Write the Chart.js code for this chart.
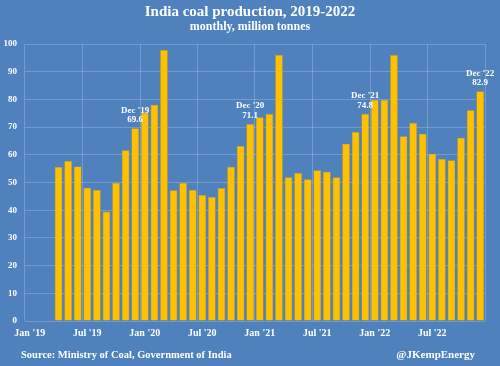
<!DOCTYPE html>
<html>
<head>
<meta charset="utf-8">
<script src="https://cdn.jsdelivr.net/npm/chart.js@4.4.0/dist/chart.umd.min.js"></script>
<style>
	html, body { margin: 0; padding: 0; background: #4F81BD; }
	#coalChart { display: block; }
</style>
</head>
<body>
<canvas id="coalChart" width="500" height="366"></canvas>
<script>
'use strict'

// CHART_COAL_MONTHLY

const months = [
	"Jan '19", "Feb '19", "Mar '19", "Apr '19", "May '19", "Jun '19", "Jul '19", "Aug '19", "Sep '19", "Oct '19", "Nov '19", "Dec '19",
	"Jan '20", "Feb '20", "Mar '20", "Apr '20", "May '20", "Jun '20", "Jul '20", "Aug '20", "Sep '20", "Oct '20", "Nov '20", "Dec '20",
	"Jan '21", "Feb '21", "Mar '21", "Apr '21", "May '21", "Jun '21", "Jul '21", "Aug '21", "Sep '21", "Oct '21", "Nov '21", "Dec '21",
	"Jan '22", "Feb '22", "Mar '22", "Apr '22", "May '22", "Jun '22", "Jul '22", "Aug '22", "Sep '22", "Oct '22", "Nov '22", "Dec '22",
];

// million tonnes, no data before Apr 2019
const production = [
	null, null, null, 55.6, 57.8, 55.8, 48.1, 47.3, 39.5, 49.9, 61.6, 69.6,
	75.2, 78.1, 97.8, 47.2, 49.9, 47.3, 45.5, 44.8, 48.0, 55.7, 63.2, 71.1,
	73.6, 74.7, 96.1, 51.9, 53.4, 51.2, 54.4, 53.9, 51.9, 64.0, 68.2, 74.8,
	79.8, 79.8, 96.0, 66.7, 71.5, 67.6, 60.4, 58.5, 58.0, 66.2, 76.1, 82.9,
];

const tickLabels = ["Jan '19", "Jul '19", "Jan '20", "Jul '20", "Jan '21", "Jul '21", "Jan '22", "Jul '22"];

const calloutMonths = ["Dec '19", "Dec '20", "Dec '21", "Dec '22"];

const colors = {
	background: '#4F81BD',
	bar: '#FFC000',
	barBorder: '#D9A300',
	grid: 'rgba(255, 255, 255, 0.2)',
	text: '#FFFFFF',
};

const serif = "'Liberation Serif', 'DejaVu Serif', serif";

const textLayer = {
	id: 'textLayer',
	beforeDraw(chart) {
		const { ctx } = chart;
		ctx.save();
		ctx.fillStyle = colors.background;
		ctx.fillRect(0, 0, chart.width, chart.height);
		ctx.restore();
	},
	afterDraw(chart) {
		const { ctx, scales: { x, y } } = chart;
		ctx.save();
		ctx.fillStyle = colors.text;
		ctx.textBaseline = 'middle';

		// title
		ctx.textAlign = 'center';
		ctx.font = 'bold 15px ' + serif;
		ctx.fillText('India coal production, 2019-2022', 250, 12);
		ctx.font = 'bold 12px ' + serif;
		ctx.fillText('monthly, million tonnes', 250, 27);

		// callouts over December bars
		ctx.font = 'bold 9px ' + serif;
		calloutMonths.forEach((m) => {
			const i = months.indexOf(m);
			const v = production[i];
			const px = x.getPixelForValue(i);
			const py = y.getPixelForValue(v);
			ctx.fillText(m, px, py - 18);
			ctx.fillText(v.toFixed(1), px, py - 8.5);
		});

		// footer
		ctx.font = 'bold 10.5px ' + serif;
		ctx.textAlign = 'left';
		ctx.fillText('Source: Ministry of Coal, Government of India', 21, 355);
		ctx.textAlign = 'right';
		ctx.font = 'bold 11px ' + serif;
		ctx.fillText('@JKempEnergy', 475, 355);
		ctx.restore();
	},
};

new Chart(document.getElementById('coalChart'), {
	type: 'bar',
	data: {
		labels: months,
		datasets: [
			{
				data: production,
				backgroundColor: colors.bar,
				borderColor: colors.barBorder,
				borderWidth: 0.6,
				barPercentage: 0.8,
				categoryPercentage: 1,
			},
		],
	},
	options: {
		responsive: false,
		animation: false,
		layout: {
			padding: { top: 44, right: 15, bottom: 23, left: 0 },
		},
		plugins: {
			legend: { display: false },
			tooltip: { enabled: false },
		},
		scales: {
			x: {
				offset: true,
				grid: {
					offset: true,
					drawTicks: false,
					color: (c) => (c.index === undefined || c.index % 6 === 0 ? colors.grid : 'transparent'),
				},
				border: { display: false },
				ticks: {
					autoSkip: false,
					maxRotation: 0,
					padding: 6,
					color: colors.text,
					font: { family: serif, size: 10, weight: 'bold' },
					callback: (value, index) => (index % 6 === 0 ? tickLabels[index / 6] : ''),
				},
				afterFit: (scale) => { scale.height = 22; },
			},
			y: {
				min: 0,
				max: 100,
				grid: {
					drawTicks: false,
					color: colors.grid,
				},
				border: { display: false },
				ticks: {
					stepSize: 10,
					padding: 8,
					color: colors.text,
					font: { family: serif, size: 9, weight: 'bold' },
				},
				afterFit: (scale) => { scale.width = 25; },
			},
		},
	},
	plugins: [textLayer],
});
</script>
</body>
</html>
